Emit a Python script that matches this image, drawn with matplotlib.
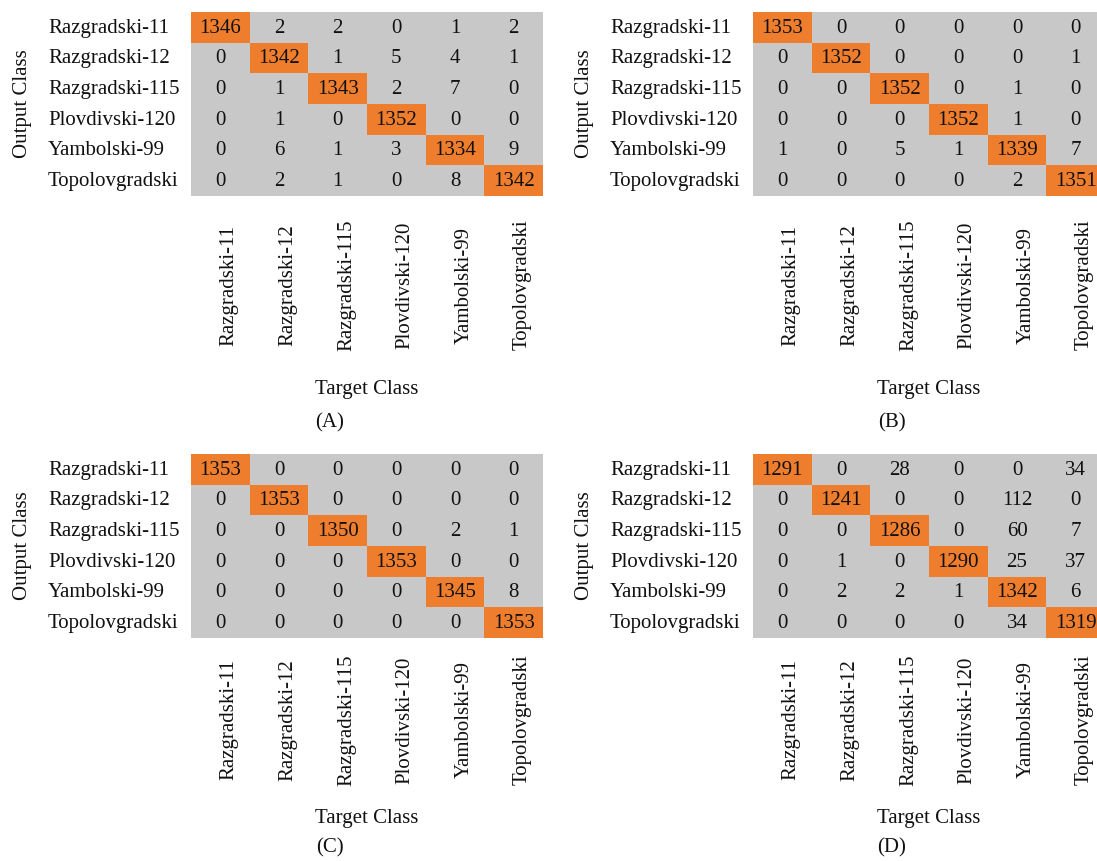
"""
Confusion matrices (A)-(D)
"""

import numpy as np
import matplotlib
matplotlib.use("Agg")
import matplotlib.pyplot as plt
from matplotlib.colors import ListedColormap

plt.rcParams['font.family'] = ['Liberation Serif', 'DejaVu Serif']

classes = ["Razgradski-11", "Razgradski-12", "Razgradski-115",
           "Plovdivski-120", "Yambolski-99", "Topolovgradski"]

cm_a = [[1346, 2, 2, 0, 1, 2],
        [0, 1342, 1, 5, 4, 1],
        [0, 1, 1343, 2, 7, 0],
        [0, 1, 0, 1352, 0, 0],
        [0, 6, 1, 3, 1334, 9],
        [0, 2, 1, 0, 8, 1342]]

cm_b = [[1353, 0, 0, 0, 0, 0],
        [0, 1352, 0, 0, 0, 1],
        [0, 0, 1352, 0, 1, 0],
        [0, 0, 0, 1352, 1, 0],
        [1, 0, 5, 1, 1339, 7],
        [0, 0, 0, 0, 2, 1351]]

cm_c = [[1353, 0, 0, 0, 0, 0],
        [0, 1353, 0, 0, 0, 0],
        [0, 0, 1350, 0, 2, 1],
        [0, 0, 0, 1353, 0, 0],
        [0, 0, 0, 0, 1345, 8],
        [0, 0, 0, 0, 0, 1353]]

cm_d = [[1291, 0, 28, 0, 0, 34],
        [0, 1241, 0, 0, 112, 0],
        [0, 0, 1286, 0, 60, 7],
        [0, 1, 0, 1290, 25, 37],
        [0, 2, 2, 1, 1342, 6],
        [0, 0, 0, 0, 34, 1319]]

panels = ["(A)", "(B)", "(C)", "(D)"]

W, H = 1097, 861
fig = plt.figure(figsize=(W / 100, H / 100), dpi=100)

cmap = ListedColormap(["#c8c8c8", "#ee7d2e"])
fs = 15

# (left px, top px, tick label offset px, title offset px, letter offset px)
layout = [(191, 12, 89, 193, 227),
          (753, 12, 89, 193, 227),
          (191, 454, 82, 180, 210),
          (753, 454, 82, 180, 210)]
aw, ah = 352, 184

for cm, name, (lx, ty, toff, xoff, poff) in zip([cm_a, cm_b, cm_c, cm_d], panels, layout):
    cm = np.array(cm)
    n = len(classes)
    ax = fig.add_axes([lx / W, 1 - (ty + ah) / H, aw / W, ah / H])
    ax.imshow(np.eye(n), cmap=cmap, aspect="auto", interpolation="nearest",
              extent=(-0.5, n - 0.5, n - 0.5, -0.5))
    ax.set_xlim(-0.5, n - 0.5)
    ax.set_ylim(n - 0.5, -0.5)
    ax.set_xticks([])
    ax.set_yticks([])
    for s in ax.spines.values():
        s.set_visible(False)

    for i in range(n):
        for j in range(n):
            ax.text(j, i + 0.03, str(cm[i, j]), ha="center", va="center",
                    fontsize=fs, color="#111111")

    # row labels
    for i, c in enumerate(classes):
        ax.text(-143 / aw, i + 0.03, c, transform=ax.get_yaxis_transform(),
                ha="left", va="center", fontsize=fs, color="#111111")
    # column labels
    for j, c in enumerate(classes):
        ax.text(j + 0.15, -toff / ah, c, transform=ax.get_xaxis_transform(),
                ha="center", va="center", rotation=90, fontsize=fs,
                color="#111111", clip_on=False)

    fig.text((lx - 168) / W, 1 - (ty + 92) / H, "Output Class", rotation=90,
             ha="center", va="center", fontsize=fs, color="#111111")
    fig.text((lx + 176) / W, 1 - (ty + ah + xoff) / H, "Target Class",
             ha="center", va="center", fontsize=fs, color="#111111")
    fig.text((lx + 139) / W, 1 - (ty + ah + poff) / H, name,
             ha="center", va="center", fontsize=fs, color="#111111")

fig.savefig("out.png", dpi=100)
